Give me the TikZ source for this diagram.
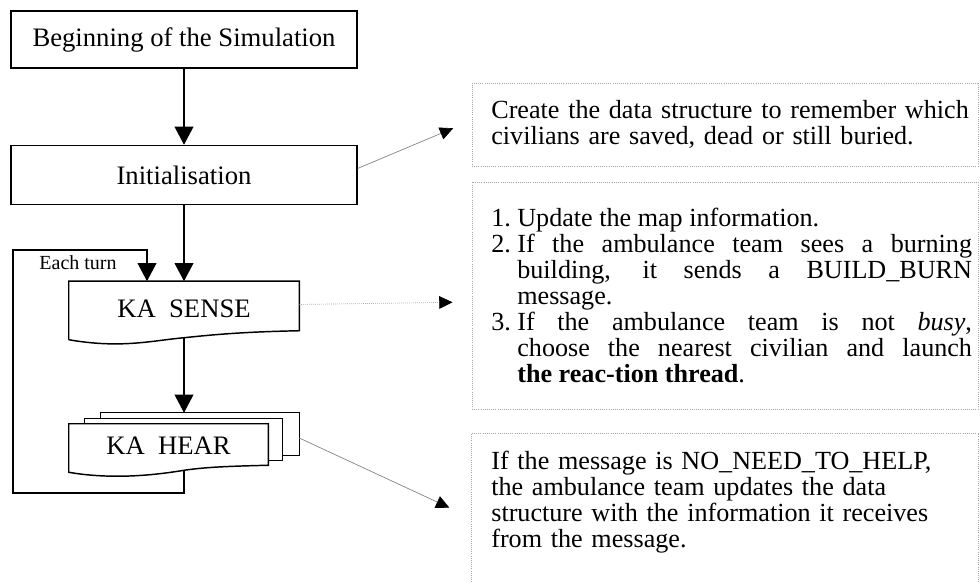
\documentclass[tikz,border=0pt]{standalone}
\usepackage{fontspec}
\setmainfont{Liberation Serif}
\usepackage{tikz}
\usetikzlibrary{arrows.meta, positioning, calc}

\begin{document}
\begin{tikzpicture}[
  x=0.75pt, y=-0.75pt,
  flowbox/.style={rectangle, draw, line width=1.1pt, minimum width=259.5pt, minimum height=42.75pt, font=\fontsize{20}{24}\selectfont},
  sheet/.style={rectangle, inner sep=0pt, font=\fontsize{20}{24}\selectfont},
  note/.style={rectangle, draw=gray!70, densely dotted, line width=0.6pt, text width=370.5pt, inner xsep=4.5pt, inner ysep=13pt, font=\fontsize{19.6}{19.6}\selectfont, align=left},
  noteline/.style={draw=gray!70, densely dotted, line width=0.6pt},
  flowline/.style={line width=1.1pt},
  flowarrow/.style={flowline, -{Triangle[length=13.5pt, width=14pt]}},
  hint/.style={draw=gray, line width=0.5pt, -{Triangle[length=10pt, width=9.5pt, color=black]}}
]
  \useasboundingbox[fill=white] (0,0) rectangle (980,582);

  \node[flowbox] (begin) at (184,39.5) {Beginning of the Simulation};
  \node[flowbox, minimum height=44.25pt, below=57pt of begin] (init) {Initialisation};
  \node[sheet, minimum width=172.5pt, minimum height=40.5pt, below=57pt of init] (sense) {KA\ \ SENSE};
  \node[sheet, minimum width=148.5pt, minimum height=31.5pt] (hearback) at (200,434) {};
  \node[sheet, minimum width=147.75pt, minimum height=30.75pt] (hearmid) at (183.5,439.5) {};
  \node[sheet, minimum width=149.25pt, minimum height=33pt] (hear) at (168.5,446) {KA\ \ HEAR};
  \node[font=\fontsize{15}{18}\selectfont] (eachturn) at (78,263) {Each turn};

  \node[note, minimum height=57.75pt] (initnote) at (725,124.5) {\leftskip=10pt Create the data structure to remember which\\ civilians are saved, dead or still buried.\par};
  \node[note, align=justify, minimum height=170.25pt] (sensenote) at (725,295.5) {\leftskip=10pt
    \hangindent=19.5pt\hangafter=1\makebox[19.5pt][l]{1.}Update the map information.\par
    \hangindent=19.5pt\hangafter=1\makebox[19.5pt][l]{2.}If the ambulance team sees a burning\linebreak building, it sends a BUILD\_BURN\linebreak message.\par
    \hangindent=19.5pt\hangafter=1\makebox[19.5pt][l]{3.}If the ambulance team is not \textit{busy},\linebreak choose the nearest civilian and launch\linebreak \textbf{the reac-tion thread}.\par};
  \node[note, draw=none, anchor=north] (hearnote) at (725,433) {\leftskip=10pt If the message is NO\_NEED\_TO\_HELP,\\ the ambulance team updates the data\\ structure with the information it receives\\ from the message.\par};

  \coordinate (sensebot) at ($(sense.south)+(0,2)$);
  \coordinate (hearbot) at ($(hear.south)+(15.5,2)$);
  \coordinate (loopbottom) at (13,493);
  \coordinate (looptop) at (13,250);

  \draw[flowline] ([yshift=-3pt]sense.south west) -- (sense.north west) -- (sense.north east) -- ([yshift=3.75pt]sense.south east)
    .. controls +(-48,1) and +(37,-4) .. (sensebot)
    .. controls +(-33,3) and +(52,9) .. ([yshift=-3pt]sense.south west);
  \draw[flowline] (hearback.north west |- hearmid.north) -- (hearback.north west) -- (hearback.north east) -- (hearback.south east) -- (hearmid.east |- hearback.south);
  \draw[flowline] (hearmid.north west |- hear.north) -- (hearmid.north west) -- (hearmid.north east) -- (hearmid.south east) -- (hear.east |- hearmid.south);
  \draw[flowline] (hear.north west) -- (hear.north east) -- ([yshift=2.25pt]hear.south east)
    .. controls +(-43,1) and +(21,-3) .. (hearbot)
    .. controls +(-24,4) and +(46,8) .. ([yshift=-3pt]hear.south west) -- cycle;

  \draw[noteline] ($(hearnote.north west)+(0,149)$) -- (hearnote.north west) -- (hearnote.north east) -- ($(hearnote.north east)+(0,149)$);

  \draw[flowarrow] (begin) -- (init);
  \draw[flowarrow] (init) -- (sense);
  \draw[flowarrow] (sensebot) -- (sensebot |- hearback.north);
  \draw[flowarrow] (hearbot) |- (loopbottom) -- (looptop) -| ([xshift=-27.75pt]sense.north);

  \draw[hint, shorten >=15pt] ([yshift=4.9pt]init.east) -- ([yshift=3pt]initnote.west);
  \draw[hint, densely dotted, shorten >=14.25pt] ([yshift=3pt]sense.east) -- ([yshift=-4.9pt]sensenote.west);
  \draw[hint, shorten >=18.4pt] ([yshift=-3pt]hearback.east) -- ($(hearnote.north west)+(0,85)$);
\end{tikzpicture}
\end{document}
